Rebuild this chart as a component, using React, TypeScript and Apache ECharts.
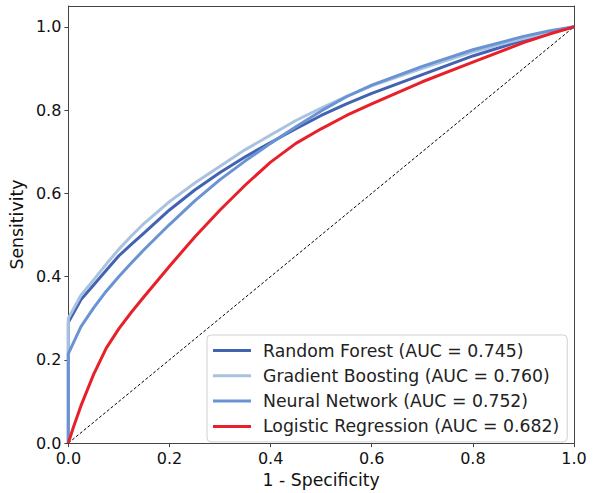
import React, { useEffect, useRef } from "react";
import * as echarts from "echarts";

const seriesNames = [
  "Random Forest (AUC = 0.745)",
  "Gradient Boosting (AUC = 0.760)",
  "Neural Network (AUC = 0.752)",
  "Logistic Regression (AUC = 0.682)",
];
const colors = ["#4262b2", "#a9c2e0", "#6a93d3", "#e8202a"];

const fprRF = [0, 0, 0.025, 0.05, 0.075, 0.1, 0.125, 0.15, 0.2, 0.25, 0.3, 0.35, 0.4, 0.45, 0.5, 0.55, 0.6, 0.7, 0.8, 0.9, 0.95, 1];
const tprRF = [0, 0.29, 0.345, 0.38, 0.415, 0.45, 0.478, 0.505, 0.56, 0.608, 0.65, 0.688, 0.722, 0.755, 0.787, 0.815, 0.84, 0.885, 0.93, 0.968, 0.985, 1];

const fprGB = [0, 0, 0.025, 0.05, 0.075, 0.1, 0.125, 0.15, 0.2, 0.25, 0.3, 0.35, 0.4, 0.45, 0.5, 0.55, 0.6, 0.7, 0.8, 0.9, 0.95, 1];
const tprGB = [0, 0.3, 0.355, 0.392, 0.43, 0.466, 0.498, 0.528, 0.58, 0.625, 0.665, 0.705, 0.74, 0.775, 0.805, 0.833, 0.858, 0.9, 0.94, 0.972, 0.987, 1];

const fprNN = [0, 0, 0.025, 0.05, 0.075, 0.1, 0.125, 0.15, 0.2, 0.25, 0.3, 0.35, 0.4, 0.45, 0.5, 0.55, 0.6, 0.7, 0.8, 0.9, 0.95, 1];
const tprNN = [0, 0.215, 0.28, 0.325, 0.365, 0.4, 0.433, 0.465, 0.525, 0.582, 0.633, 0.678, 0.72, 0.76, 0.798, 0.832, 0.86, 0.905, 0.945, 0.977, 0.99, 1];

const fprLR = [0, 0.01, 0.025, 0.05, 0.075, 0.1, 0.125, 0.15, 0.2, 0.25, 0.3, 0.35, 0.4, 0.45, 0.5, 0.55, 0.6, 0.7, 0.8, 0.9, 0.95, 1];
const tprLR = [0, 0.038, 0.09, 0.165, 0.228, 0.275, 0.315, 0.352, 0.425, 0.495, 0.56, 0.62, 0.675, 0.72, 0.755, 0.787, 0.815, 0.868, 0.915, 0.962, 0.982, 1];

const chanceLine = [0, 1];
const tickValues = [0, 0.2, 0.4, 0.6, 0.8, 1.0];

const zip = (xs: number[], ys: number[]) => xs.map((x, i) => [x, ys[i]]);

export default function App() {
  const ref = useRef<HTMLDivElement>(null);
  useEffect(() => {
    if (!ref.current) return;
    const chart = echarts.init(ref.current, null, { renderer: "svg" });
    const font = "DejaVu Sans";
    const frame = { show: true, onZero: false, lineStyle: { color: "#444", width: 1 } };
    const curves = [
      zip(fprRF, tprRF),
      zip(fprGB, tprGB),
      zip(fprNN, tprNN),
      zip(fprLR, tprLR),
    ];
    chart.setOption({
      animation: false,
      backgroundColor: "#ffffff",
      grid: {
        left: 67,
        right: 23,
        top: 6,
        bottom: 43,
      },
      xAxis: [
        {
          type: "value",
          min: 0,
          max: 1,
          interval: 0.2,
          name: "1 - Specificity",
          nameLocation: "middle",
          nameGap: 24,
          nameTextStyle: { fontFamily: font, fontSize: 17.3, color: "#111" },
          axisLine: frame,
          axisTick: { show: true, length: 4, inside: false, lineStyle: { color: "#444" } },
          axisLabel: {
            fontFamily: font,
            fontSize: 16,
            color: "#111",
            margin: 7,
            formatter: (v: number) => v.toFixed(1),
          },
          splitLine: { show: false },
        },
        {
          type: "value",
          position: "top",
          min: 0,
          max: 1,
          axisLine: frame,
          axisTick: { show: false },
          axisLabel: { show: false },
          splitLine: { show: false },
        },
      ],
      yAxis: [
        {
          type: "value",
          min: 0,
          max: 1.05,
          name: "Sensitivity",
          nameLocation: "middle",
          nameGap: 35,
          nameTextStyle: { fontFamily: font, fontSize: 17.3, color: "#111" },
          axisLine: frame,
          axisTick: {
            show: true,
            length: 4,
            lineStyle: { color: "#444" },
            customValues: tickValues,
          },
          axisLabel: {
            fontFamily: font,
            fontSize: 16,
            color: "#111",
            margin: 7,
            customValues: tickValues,
            formatter: (v: number) => v.toFixed(1),
          },
          splitLine: { show: false },
        },
        {
          type: "value",
          position: "right",
          min: 0,
          max: 1.05,
          axisLine: frame,
          axisTick: { show: false },
          axisLabel: { show: false },
          splitLine: { show: false },
        },
      ],
      legend: {
        orient: "vertical",
        left: 207,
        top: 335,
        padding: [7, 8, 7, 6],
        itemGap: 8.3,
        itemWidth: 38,
        itemHeight: 3,
        icon: "rect",
        backgroundColor: "rgba(255,255,255,0.85)",
        borderColor: "#d0d0d0",
        borderWidth: 1,
        borderRadius: 4,
        data: seriesNames,
        textStyle: {
          fontFamily: font,
          fontSize: 17.3,
          lineHeight: 17,
          color: "#222",
          padding: [0, 0, 0, 7],
        },
      },
      series: [
        {
          type: "line",
          name: "chance",
          data: zip(chanceLine, chanceLine),
          showSymbol: false,
          symbol: "none",
          lineStyle: { color: "#000", width: 1, type: [3, 2] },
          z: 1,
          silent: true,
        },
        ...seriesNames.map((n, i) => ({
          type: "line",
          name: n,
          data: curves[i],
          showSymbol: false,
          symbol: "none",
          color: colors[i],
          lineStyle: { color: colors[i], width: 3, join: "round" },
          z: 2 + i,
        })),
      ],
    });
    return () => chart.dispose();
  }, []);
  return (
    <div
      ref={ref}
      style={{ position: "fixed", left: 0, top: 0, width: 597, height: 493 }}
    />
  );
}
